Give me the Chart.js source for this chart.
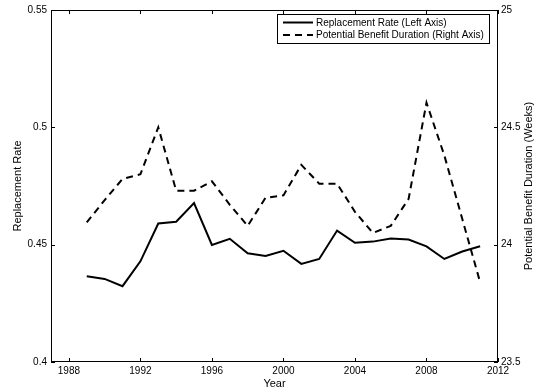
<!DOCTYPE html>
<html>
<head>
<meta charset="utf-8">
<script src="https://cdn.jsdelivr.net/npm/chart.js@4.4.1/dist/chart.umd.min.js"></script>
<style>
  body { margin: 0; background: #fff; }
  canvas { display: block; }
</style>
</head>
<body>
<canvas id="chart" width="537" height="391"></canvas>
<script>
// Data
const years = [1989, 1990, 1991, 1992, 1993, 1994, 1995, 1996, 1997, 1998, 1999, 2000,
  2001, 2002, 2003, 2004, 2005, 2006, 2007, 2008, 2009, 2010, 2011];
const replacementRate = [0.4365, 0.4354, 0.4323, 0.4429, 0.4590, 0.4598, 0.4677, 0.4499,
  0.4525, 0.4463, 0.4452, 0.4474, 0.4418, 0.4439, 0.4560, 0.4508, 0.4513, 0.4526,
  0.4522, 0.4493, 0.4439, 0.4471, 0.4493];
const benefitDuration = [24.095, 24.19, 24.28, 24.30, 24.50, 24.23, 24.23, 24.27, 24.17,
  24.08, 24.20, 24.21, 24.34, 24.26, 24.26, 24.14, 24.05, 24.08, 24.195, 24.605,
  24.38, 24.11, 23.84];
const xTicks = [1988, 1992, 1996, 2000, 2004, 2008, 2012];
const leftTicks = [0.4, 0.45, 0.5, 0.55];
const rightTicks = [23.5, 24, 24.5, 25];

const FONT = "'Liberation Sans', Arial, Helvetica, sans-serif";

// Box, inward ticks, right-hand title and legend drawn on top
const framePlugin = {
  id: "frame",
  afterDraw(chart) {
    const ctx = chart.ctx;
    const a = chart.chartArea;
    const sx = chart.scales.x, sy = chart.scales.y, sy1 = chart.scales.y1;
    const tl = 4;
    ctx.save();
    ctx.strokeStyle = "#000";
    ctx.lineWidth = 1;
    ctx.strokeRect(Math.round(a.left) + 0.5, Math.round(a.top) + 0.5,
      Math.round(a.right - a.left) - 1, Math.round(a.bottom - a.top) - 1);

    ctx.beginPath();
    xTicks.forEach(v => {
      const px = Math.round(sx.getPixelForValue(v)) + 0.5;
      ctx.moveTo(px, a.top); ctx.lineTo(px, a.top + tl);
      ctx.moveTo(px, a.bottom); ctx.lineTo(px, a.bottom - tl);
    });
    leftTicks.forEach(v => {
      const py = Math.round(sy.getPixelForValue(v)) + 0.5;
      ctx.moveTo(a.left, py); ctx.lineTo(a.left + tl, py);
    });
    rightTicks.forEach(v => {
      const py = Math.round(sy1.getPixelForValue(v)) + 0.5;
      ctx.moveTo(a.right, py); ctx.lineTo(a.right - tl, py);
    });
    ctx.stroke();

    // right axis title, reads bottom to top like the left one
    ctx.fillStyle = "#000";
    ctx.font = "11px " + FONT;
    ctx.textAlign = "center";
    ctx.textBaseline = "middle";
    ctx.translate(528.5, (a.top + a.bottom) / 2);
    ctx.rotate(-Math.PI / 2);
    ctx.fillText("Potential Benefit Duration (Weeks)", 0, 0);
    ctx.setTransform(1, 0, 0, 1, 0, 0);

    // legend
    const bx = 277.5, by = 14.5, bw = 212, bh = 29;
    ctx.fillStyle = "#fff";
    ctx.fillRect(bx, by, bw, bh);
    ctx.strokeRect(bx, by, bw, bh);
    ctx.font = "10px " + FONT;
    ctx.textAlign = "left";
    chart.data.datasets.forEach((ds, i) => {
      const ly = 22.5 + i * 12.5;
      ctx.beginPath();
      ctx.lineWidth = 2;
      ctx.setLineDash(ds.borderDash || []);
      ctx.moveTo(283, ly);
      ctx.lineTo(313, ly);
      ctx.stroke();
      ctx.setLineDash([]);
      ctx.fillStyle = "#000";
      ctx.fillText(ds.label, 316, ly + 0.5);
    });
    ctx.restore();
  }
};

new Chart(document.getElementById("chart"), {
  type: "line",
  data: {
    datasets: [
      {
        label: "Replacement Rate (Left Axis)",
        data: years.map((yr, i) => ({ x: yr, y: replacementRate[i] })),
        yAxisID: "y",
        borderColor: "#000",
        borderWidth: 2,
        pointRadius: 0,
        tension: 0
      },
      {
        label: "Potential Benefit Duration (Right Axis)",
        data: years.map((yr, i) => ({ x: yr, y: benefitDuration[i] })),
        yAxisID: "y1",
        borderColor: "#000",
        borderWidth: 2,
        borderDash: [7, 5],
        pointRadius: 0,
        tension: 0
      }
    ]
  },
  options: {
    responsive: false,
    animation: false,
    layout: { padding: { top: 10, left: 0, right: 0, bottom: 0 } },
    plugins: {
      legend: { display: false },
      tooltip: { enabled: false }
    },
    scales: {
      x: {
        type: "linear",
        position: "bottom",
        min: 1987,
        max: 2012,
        afterBuildTicks: s => { s.ticks = xTicks.map(v => ({ value: v })); },
        afterFit: s => { s.height = 29; },
        grid: { display: false, drawTicks: false },
        border: { display: false },
        ticks: {
          color: "#000",
          font: { family: FONT, size: 10 },
          padding: 3,
          maxRotation: 0,
          callback: v => String(v)
        },
        title: {
          display: true,
          text: "Year",
          color: "#000",
          font: { family: FONT, size: 11 },
          padding: { top: 0, bottom: 0 }
        }
      },
      y: {
        position: "left",
        min: 0.4,
        max: 0.55,
        afterBuildTicks: s => { s.ticks = leftTicks.map(v => ({ value: v })); },
        afterFit: s => { s.width = 51; },
        grid: { display: false, drawTicks: false },
        border: { display: false },
        ticks: {
          color: "#000",
          font: { family: FONT, size: 10 },
          padding: 4,
          callback: v => String(v)
        },
        title: {
          display: true,
          text: "Replacement Rate",
          color: "#000",
          font: { family: FONT, size: 11 },
          padding: { top: 11, bottom: 0 }
        }
      },
      y1: {
        position: "right",
        min: 23.5,
        max: 25,
        afterBuildTicks: s => { s.ticks = rightTicks.map(v => ({ value: v })); },
        afterFit: s => { s.width = 39; },
        grid: { display: false, drawTicks: false },
        border: { display: false },
        ticks: {
          color: "#000",
          font: { family: FONT, size: 10 },
          padding: 3,
          callback: v => String(v)
        }
      }
    }
  },
  plugins: [framePlugin]
});
</script>
</body>
</html>
